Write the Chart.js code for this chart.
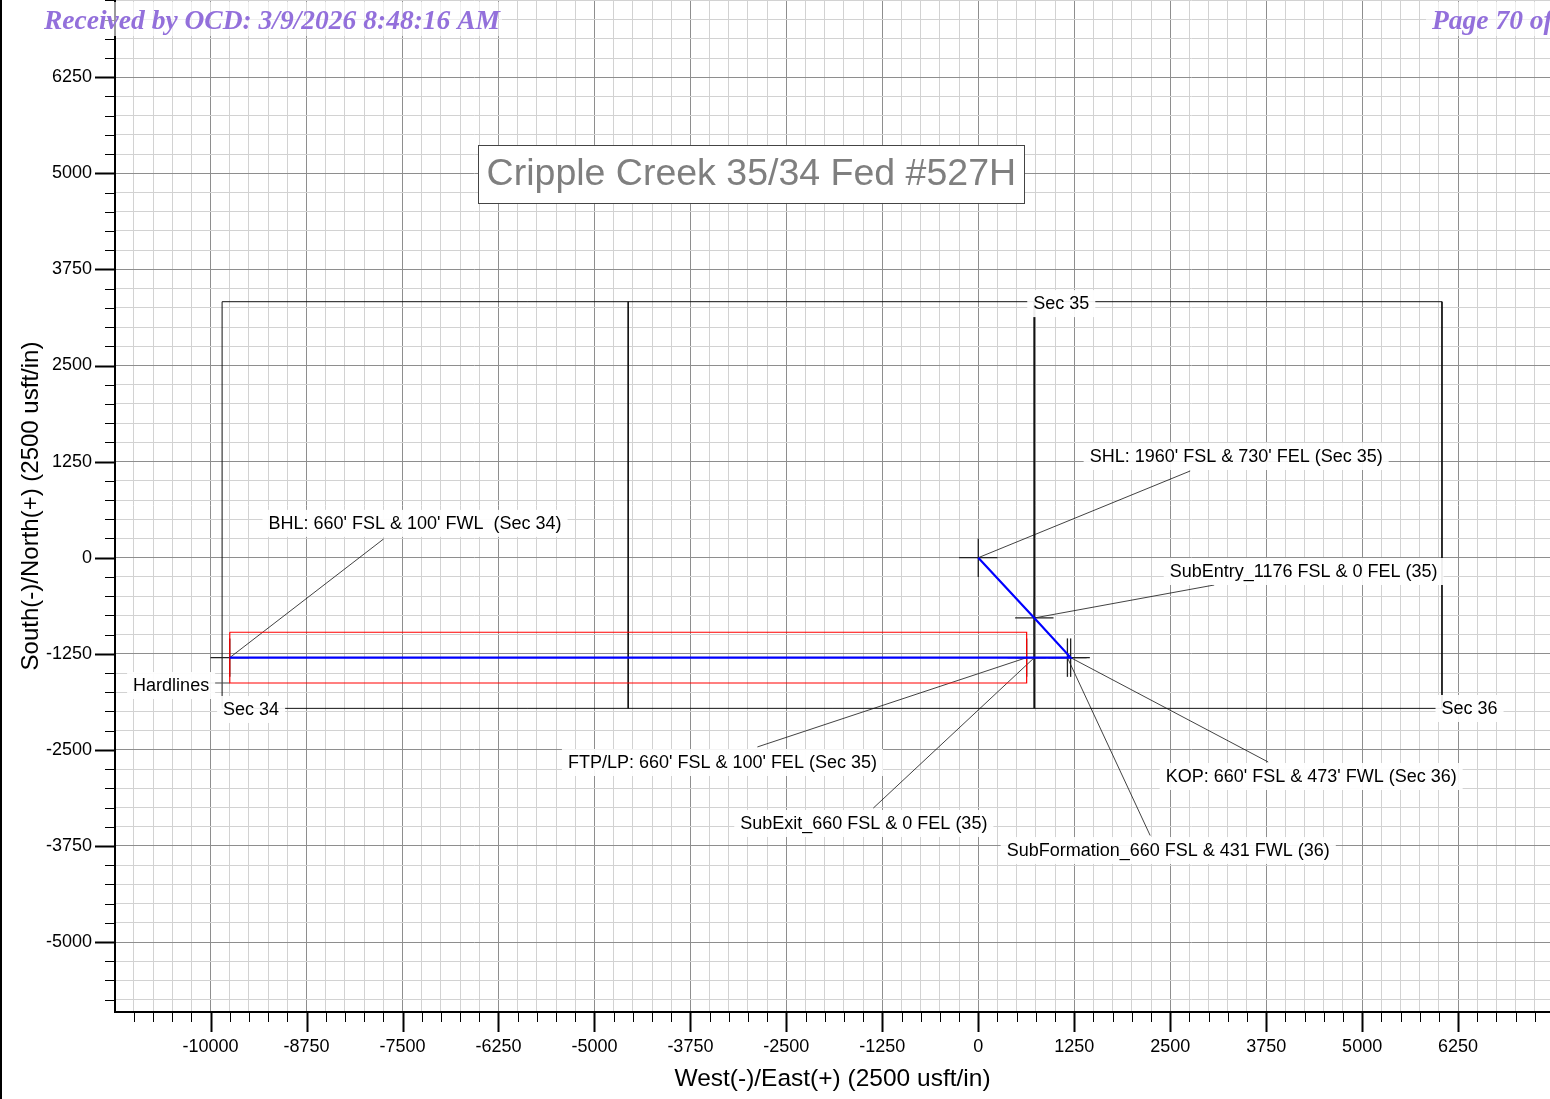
<!DOCTYPE html>
<html lang="en">
<head>
<meta charset="UTF-8">
<title>Cripple Creek 35/34 Fed #527H</title>
<script src="https://cdn.jsdelivr.net/npm/chart.js"></script>
<style>
    body { margin: 0; padding: 0; background: #fff; overflow: hidden; }
    canvas { display: block; }
</style>
</head>
<body>
<canvas id="plan" width="1550" height="1099"></canvas>
<script>
// targets along the well (usft from SHL, east / north)
const targetNames = ['SHL', 'SubEntry', 'KOP', 'SubFormation', 'SubExit', 'FTP/LP', 'BHL'];
const targetEast  = [0, 730, 1203, 1161, 730, 630, -9750];
const targetNorth = [0, -784, -1300, -1300, -1300, -1300, -1300];

// section lines
const secBoxEast  = [-9850, -9850, 6040, 6040, -9850];
const secBoxNorth = [-1960, 3330, 3330, -1960, -1960];
const sec3435East = [-4560, -4560];
const sec3536East = [730, 730];
const secLineNorth = [3330, -1960];

// hardlines
const hardEast  = [-9750, -9750, 630, 630, -9750];
const hardNorth = [-970, -1630, -1630, -970, -970];
const hardLeaderEast  = [-10020, -9750];
const hardLeaderNorth = [-1630, -1630];

// target annotations
const labelText = [
    "SHL: 1960' FSL & 730' FEL (Sec 35)",
    "SubEntry_1176 FSL & 0 FEL (35)",
    "KOP: 660' FSL & 473' FWL (Sec 36)",
    "SubFormation_660 FSL & 431 FWL (36)",
    "SubExit_660 FSL & 0 FEL (35)",
    "FTP/LP: 660' FSL & 100' FEL (Sec 35)",
    "BHL: 660' FSL & 100' FWL  (Sec 34)"
];
const labelEast   = [3359, 4238, 4336, 2474, -1491, -3333, -7337];
const labelNorth  = [1323, -173, -2840, -3803, -3451, -2658, 453];
const leaderEast  = [2760, 3073, 3776, 2239, -1367, -2877, -7747];
const leaderNorth = [1128, -355, -2658, -3614, -3257, -2462, 243];

// section annotations
const secNames = ['Sec 35', 'Sec 34', 'Sec 36', 'Hardlines'];
const secLabelEast  = [1081, -9472, 6399, -10514];
const secLabelNorth = [3312, -1968, -1955, -1656];

const chartTitle = 'Cripple Creek 35/34 Fed #527H';
const titleEast = -2956, titleNorth = 4992;

// axes
const xMin = -11245, xMax = 7447;
const yMin = -5910, yMax = 7255;
const minorStep = 250, majorStep = 1250;

const crossHalf = 250;

function pts(xs, ys) {
    return xs.map((x, i) => ({ x: x, y: ys[i] }));
}

function lineSet(data, color, width, order) {
    return { data: data, showLine: true, borderColor: color, borderWidth: width,
             pointRadius: 0, fill: false, tension: 0, order: order };
}

const datasets = [];
datasets.push(lineSet(pts(targetEast, targetNorth), '#0000ff', 2.2, 0));
targetEast.forEach((x, i) => {
    const y = targetNorth[i];
    datasets.push(lineSet(pts([x - crossHalf, x + crossHalf], [y, y]), '#222', 1.3, 2));
    datasets.push(lineSet(pts([x, x], [y - crossHalf, y + crossHalf]), '#222', 1.3, 2));
    datasets.push(lineSet(pts([x, leaderEast[i]], [y, leaderNorth[i]]), '#111', 0.8, 3));
});
datasets.push(lineSet(pts(hardEast, hardNorth), '#ff0000', 1.2, 1));
datasets.push(lineSet(pts(hardLeaderEast, hardLeaderNorth), '#444', 1, 3));
datasets.push(lineSet(pts(secBoxEast, secBoxNorth), '#111', 1, 4));
datasets.push(lineSet(pts(sec3435East, secLineNorth), '#111', 1, 4));
datasets.push(lineSet(pts(sec3536East, secLineNorth), '#111', 2, 4));

function buildTicks(scale) {
    const t = [];
    for (let v = Math.ceil(scale.min / minorStep) * minorStep; v <= scale.max; v += minorStep) {
        t.push({ value: v });
    }
    scale.ticks = t;
}

function gridColor(ctx) {
    return ctx.tick && ctx.tick.value % majorStep === 0 ? '#8e8e8e' : '#d2d2d2';
}

function tickLabel(v) {
    return v % majorStep === 0 ? String(v) : '';
}

function labelBox(ctx, text, cx, cy) {
    const w = ctx.measureText(text).width;
    ctx.fillStyle = 'rgba(255,255,255,0.92)';
    ctx.fillRect(cx - w / 2 - 6, cy - 13, w + 12, 27);
    ctx.fillStyle = '#000';
    ctx.fillText(text, cx, cy + 1);
}

const decorations = {
    id: 'decorations',
    afterDraw(chart) {
        const ctx = chart.ctx;
        const xs = chart.scales.x, ys = chart.scales.y;
        const area = chart.chartArea;
        ctx.save();

        // tick marks, long at major steps
        ctx.strokeStyle = '#000';
        xs.ticks.forEach(t => {
            const major = t.value % majorStep === 0;
            const px = Math.round(xs.getPixelForValue(t.value)) + 0.5;
            ctx.lineWidth = major ? 2 : 1;
            ctx.beginPath();
            ctx.moveTo(px, area.bottom);
            ctx.lineTo(px, area.bottom + (major ? 20 : 10));
            ctx.stroke();
        });
        ys.ticks.forEach(t => {
            const major = t.value % majorStep === 0;
            const py = Math.round(ys.getPixelForValue(t.value)) + 0.5;
            ctx.lineWidth = major ? 2 : 1;
            ctx.beginPath();
            ctx.moveTo(area.left, py);
            ctx.lineTo(area.left - (major ? 20 : 10), py);
            ctx.stroke();
        });

        // annotations
        ctx.font = '18px "Liberation Sans", Arial, sans-serif';
        ctx.textAlign = 'center';
        ctx.textBaseline = 'middle';
        labelText.forEach((txt, i) => {
            labelBox(ctx, txt, xs.getPixelForValue(labelEast[i]), ys.getPixelForValue(labelNorth[i]));
        });
        secNames.forEach((txt, i) => {
            labelBox(ctx, txt, xs.getPixelForValue(secLabelEast[i]), ys.getPixelForValue(secLabelNorth[i]));
        });

        // title box
        const tx = xs.getPixelForValue(titleEast), ty = ys.getPixelForValue(titleNorth);
        ctx.fillStyle = '#fff';
        ctx.fillRect(tx - 273, ty - 29, 546, 58);
        ctx.strokeStyle = '#444';
        ctx.lineWidth = 1;
        ctx.strokeRect(Math.round(tx - 273) + 0.5, Math.round(ty - 29) + 0.5, 546, 58);
        ctx.font = '37.5px "Liberation Sans", Arial, sans-serif';
        ctx.fillStyle = '#7f7f7f';
        ctx.fillText(chartTitle, tx, ty + 1);

        // received stamp
        ctx.fillStyle = 'rgba(255,255,255,0.6)';
        ctx.fillRect(40, 2, 462, 34);
        ctx.fillRect(1426, 2, 124, 34);
        ctx.font = 'italic bold 27.5px "Liberation Serif", "Times New Roman", serif';
        ctx.fillStyle = '#9370db';
        ctx.textAlign = 'left';
        ctx.textBaseline = 'alphabetic';
        ctx.fillText('Received by OCD: 3/9/2026 8:48:16 AM', 44, 29);
        ctx.fillText('Page 70 of', 1432, 29);

        // page edge
        ctx.fillStyle = '#000';
        ctx.fillRect(0, 0, 2, chart.height);
        ctx.restore();
    }
};

new Chart(document.getElementById('plan'), {
    type: 'scatter',
    data: { datasets: datasets },
    options: {
        responsive: false,
        animation: false,
        layout: { padding: 0 },
        plugins: { legend: { display: false }, tooltip: { enabled: false } },
        scales: {
            x: {
                type: 'linear', position: 'bottom', min: xMin, max: xMax,
                afterBuildTicks: buildTicks,
                afterFit: s => { s.height = 87; s.paddingLeft = 0; s.paddingRight = 0; },
                grid: { color: gridColor, lineWidth: 1, drawTicks: false },
                border: { color: '#000', width: 2 },
                ticks: { callback: tickLabel, autoSkip: false, maxRotation: 0, padding: 24,
                         color: '#000', font: { family: '"Liberation Sans", Arial', size: 18 } },
                title: { display: true, text: 'West(-)/East(+) (2500 usft/in)', color: '#000',
                         font: { family: '"Liberation Sans", Arial', size: 24.5 }, padding: { top: 0, bottom: 5 } }
            },
            y: {
                type: 'linear', position: 'left', min: yMin, max: yMax,
                afterBuildTicks: buildTicks,
                afterFit: s => { s.width = 115; s.paddingTop = 0; s.paddingBottom = 0; },
                grid: { color: gridColor, lineWidth: 1, drawTicks: false },
                border: { color: '#000', width: 2 },
                ticks: { callback: tickLabel, autoSkip: false, padding: 23,
                         color: '#000', font: { family: '"Liberation Sans", Arial', size: 18 } },
                title: { display: true, text: 'South(-)/North(+) (2500 usft/in)', color: '#000',
                         font: { family: '"Liberation Sans", Arial', size: 24 }, padding: { top: 17, bottom: 0 } }
            }
        }
    },
    plugins: [decorations]
});
</script>
</body>
</html>
